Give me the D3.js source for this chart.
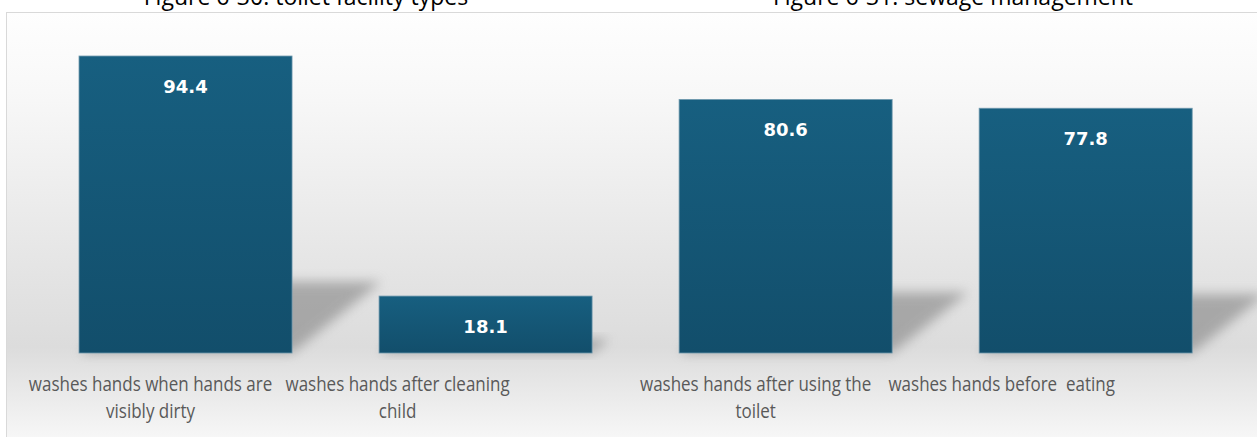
<!DOCTYPE html>
<html>
<head>
<meta charset="utf-8">
<script src="https://cdn.jsdelivr.net/npm/d3@7"></script>
<style>
  body { margin: 0; background: #fff; }
  svg { display: block; }
  text { white-space: pre; }
</style>
</head>
<body>
<svg id="chart"></svg>
<script>
const width = 1257;
const height = 437;

// data
var categories = [
    ["washes hands when hands are", "visibly dirty"],
    ["washes hands after cleaning", "child"],
    ["washes hands after using the", "toilet"],
    ["washes hands before  eating"]
];
var values = [94.4, 18.1, 80.6, 77.8];
var captions = ["Figure 6-30: toilet facility types", "Figure 6-31: sewage management"];

// label nudges to follow the original layout
var labelNudge = [-35, -88, -30, -84];

var svg = d3.select("#chart")
    .attr("width", width)
    .attr("height", height);

var defs = svg.append("defs");

var bg = defs.append("linearGradient")
    .attr("id", "bg").attr("x1", 0).attr("x2", 0).attr("y1", 0).attr("y2", 1);
bg.append("stop").attr("offset", "0%").attr("stop-color", "#fefefe");
bg.append("stop").attr("offset", "18%").attr("stop-color", "#f8f8f8");
bg.append("stop").attr("offset", "76%").attr("stop-color", "#dcdcdc");
bg.append("stop").attr("offset", "100%").attr("stop-color", "#fbfbfb");

var barGrad = defs.append("linearGradient")
    .attr("id", "barGrad").attr("x1", 0).attr("x2", 0).attr("y1", 0).attr("y2", 1);
barGrad.append("stop").attr("offset", "0%").attr("stop-color", "#175f80");
barGrad.append("stop").attr("offset", "100%").attr("stop-color", "#124e6b");

defs.append("filter").attr("id", "blur")
    .attr("x", "-50%").attr("y", "-50%").attr("width", "200%").attr("height", "200%")
    .append("feGaussianBlur").attr("stdDeviation", 6);

// frame
svg.append("rect")
    .attr("x", 6.5).attr("y", 12.5)
    .attr("width", 1265).attr("height", 440)
    .attr("fill", "url(#bg)")
    .attr("stroke", "#d9d9d9")
    .attr("stroke-width", 1);

// cut-off captions from the page above
svg.selectAll("text.caption")
    .data(captions)
    .enter()
    .append("text")
    .attr("class", "caption")
    .attr("x", (d, i) => [306, 953][i])
    .attr("y", 5)
    .attr("text-anchor", "middle")
    .attr("font-family", "'Open Sans', sans-serif")
    .attr("font-size", 23)
    .attr("fill", "#000")
    .text(d => d);

var xScale = d3.scaleBand()
    .domain(d3.range(values.length))
    .range([34.6, 1236.6])
    .paddingInner(0.29)
    .paddingOuter(0.148);

var yScale = d3.scaleLinear()
    .domain([0, 100])
    .range([353, 38.4]);

var base = yScale(0);

// perspective shadows
svg.append("g")
    .selectAll("path")
    .data(values)
    .enter()
    .append("path")
    .attr("d", (d, i) => {
        var x0 = xScale(i), x1 = x0 + xScale.bandwidth();
        var h = base - yScale(d);
        var dx = 0.3 * h, dy = 0.24 * h;
        return `M${x0},${base}L${x1},${base}L${x1 + dx},${base - dy}L${x0 + dx},${base - dy}Z`;
    })
    .attr("fill", "#7a7a7a")
    .attr("opacity", 0.55)
    .attr("filter", "url(#blur)");

var bars = svg.append("g")
    .selectAll("g")
    .data(values)
    .enter()
    .append("g");

bars.append("rect")
    .attr("x", (d, i) => xScale(i))
    .attr("y", d => yScale(d))
    .attr("width", xScale.bandwidth())
    .attr("height", d => base - yScale(d))
    .attr("fill", "url(#barGrad)")
    .attr("stroke", "#6f98ad")
    .attr("stroke-width", 0.8);

bars.append("text")
    .attr("x", (d, i) => xScale(i) + xScale.bandwidth() / 2)
    .attr("y", d => yScale(d) + 37)
    .attr("text-anchor", "middle")
    .attr("font-family", "'DejaVu Sans', sans-serif")
    .attr("font-weight", "bold")
    .attr("font-size", 18)
    .attr("fill", "#ffffff")
    .text(d => d.toFixed(1));

// category labels
var labels = svg.append("g")
    .selectAll("text")
    .data(categories)
    .enter()
    .append("text")
    .attr("transform", (d, i) =>
        `translate(${xScale(i) + xScale.bandwidth() / 2 + labelNudge[i]},391) scale(0.85,1)`)
    .attr("text-anchor", "middle")
    .attr("font-family", "'Open Sans', sans-serif")
    .attr("font-size", 20)
    .attr("fill", "#595959");

labels.selectAll("tspan")
    .data(d => d)
    .enter()
    .append("tspan")
    .attr("x", 0)
    .attr("dy", (d, j) => j === 0 ? 0 : 27)
    .text(d => d);
</script>
</body>
</html>
